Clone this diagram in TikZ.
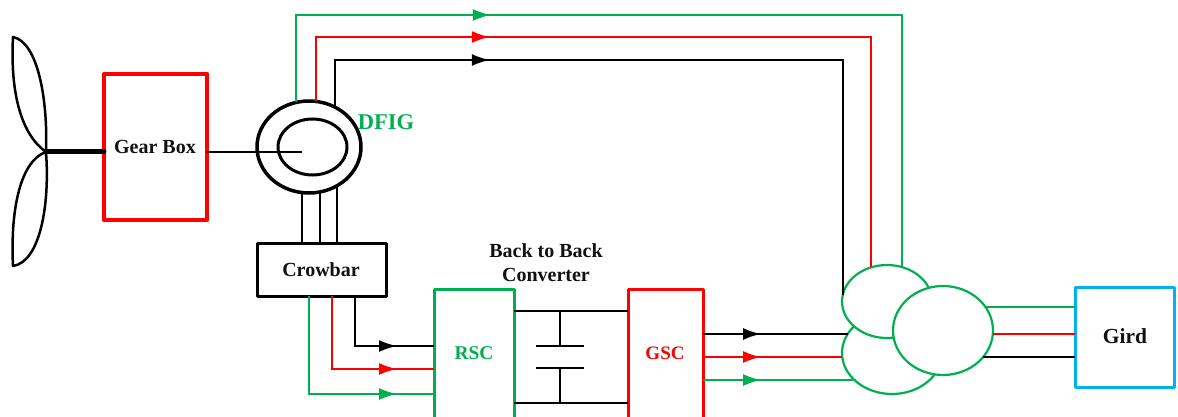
\documentclass[tikz,border=0pt]{standalone}
\usepackage{fontspec}
\setmainfont{Liberation Serif}
\usepackage{xcolor}
\usetikzlibrary{arrows.meta,decorations.markings,positioning,shapes.geometric}
\definecolor{gcol}{HTML}{00B050}
\definecolor{rcol}{HTML}{FF0000}
\definecolor{bcol}{HTML}{00B0F0}
\definecolor{kcol}{HTML}{111111}
\tikzset{
	block/.style={draw, rectangle, fill=none, inner sep=0pt, outer sep=0pt, line join=round},
	coil/.style={draw=gcol, fill=white, ellipse, line width=2.2pt, inner sep=0pt, outer sep=0pt},
	ring/.style={draw=black, ellipse, line width=3.5pt, inner sep=0pt, outer sep=0pt},
	lbl/.style={font=\bfseries\fontsize{20}{24}\selectfont, inner sep=0pt, text=kcol},
	gwire/.style={draw=gcol, line width=2pt},
	rwire/.style={draw=rcol, line width=2pt},
	kwire/.style={draw=black, line width=2pt},
	arrowat/.style={postaction={decorate, decoration={markings, mark=at position #1 with {\arrow{Latex[length=18pt,width=12pt]}}}}}
}
\begin{document}
\begin{tikzpicture}[x=1pt, y=-1pt]
\useasboundingbox (0,0) rectangle (1178,417);
\coordinate (hub) at (46,152);
\node[block, draw=rcol, line width=4.5pt, minimum width=103pt, minimum height=146pt] (gear) at (155.5,147) {};
\node[ring, minimum width=104pt, minimum height=92pt] (gen) at (309,147) {};
\node[ring, line width=3pt, minimum width=69pt, minimum height=56pt] (rotor) at (312.5,147) {};
\node[block, draw=black, line width=3pt, minimum width=129pt, minimum height=53pt] (crowbar) at (321.5,269.5) {};
\node[block, draw=gcol, line width=3pt, minimum width=80pt, minimum height=131pt] (rsc) at (474,354.5) {};
\node[block, draw=rcol, line width=3pt, minimum width=75pt, minimum height=131pt] (gsc) at (665.5,354.5) {};
\node[block, draw=bcol, line width=3pt, minimum width=99pt, minimum height=100pt] (grid) at (1124.5,337) {};
\node[coil, minimum width=100pt, minimum height=82pt] (botcoil) at (892,353) {};
\node[coil, minimum width=90pt, minimum height=73pt] (topcoil) at (887,301.5) {};
\node[coil, minimum width=100pt, minimum height=89pt] (rightcoil) at (943,330.5) {};

\node[lbl] (gearlbl) at (155,147) {Gear Box};
\node[lbl, text=gcol, font=\bfseries\fontsize{22.5}{26}\selectfont] (dfig) at (386,122) {DFIG};
\node[lbl] (crowlbl) at (321,270) {Crowbar};
\node[lbl] (back) at (546,251) {Back to Back};
\node[lbl] (conv) [below=10pt of back] {Converter};
\node[lbl, text=gcol, font=\bfseries\fontsize{19.5}{23}\selectfont] (rsclbl) at (474,353) {RSC};
\node[lbl, text=rcol, font=\bfseries\fontsize{19}{23}\selectfont] (gsclbl) at (665,353) {GSC};
\node[lbl, font=\bfseries\fontsize{21.5}{25}\selectfont] (gridlbl) at (1125,336) {Gird};

\draw[line width=2.5pt, line join=round] (hub) .. controls (22,135) and (10,95) .. (13,37)
	.. controls (38,42) and (48,100) .. (hub);
\draw[line width=2.5pt, line join=round] (hub) .. controls (22,160) and (10,205) .. (13,266)
	.. controls (40,262) and (50,205) .. (hub);
\draw[line width=5pt, line cap=round] (hub) -- (gear.west |- hub);
\coordinate (shaftend) at (302,152);
\draw[kwire] (gear.east |- shaftend) -- (shaftend);

\coordinate (gtop) at (600,15);
\coordinate (rtop) at (600,37);
\coordinate (ktop) at (600,60);
\path[gwire, arrowat=282pt] (gen.106) |- (gtop) -| (topcoil.66);
\path[rwire, arrowat=238pt] (gen.81) |- (rtop) -| (topcoil.115);
\path[kwire, arrowat=202pt] (gen.57) |- (ktop) -| (topcoil.172);

\draw[kwire] (gen.-99) -- (gen.-99 |- crowbar.north);
\draw[kwire] (gen.-76) -- (gen.-76 |- crowbar.north);
\draw[kwire] (gen.-54) -- (gen.-54 |- crowbar.north);

\path[gwire, arrowat=-37pt] ([xshift=-12.5pt]crowbar.south) |- ([yshift=-39.5pt]rsc.west);
\path[rwire, arrowat=-37pt] ([xshift=10.5pt]crowbar.south) |- ([yshift=-14.5pt]rsc.west);
\path[kwire, arrowat=-37pt] ([xshift=33.5pt]crowbar.south) |- ([yshift=8.5pt]rsc.west);

\draw[kwire] ([yshift=43.5pt]rsc.east) -- ([yshift=43.5pt]gsc.west);
\draw[kwire] ([yshift=-48.5pt]rsc.east) -- ([yshift=-48.5pt]gsc.west);
\coordinate (capa) at (560,346);
\coordinate (capb) at (560,368);
\draw[kwire] ([yshift=43.5pt]rsc.east -| capa) -- (capa);
\draw[kwire] (capb) -- ([yshift=-48.5pt]rsc.east -| capb);
\draw[kwire] ([xshift=-24pt]capa) -- ([xshift=24pt]capa);
\draw[kwire] ([xshift=-24pt]capb) -- ([xshift=24pt]capb);

\coordinate (gsck) at ([yshift=20.5pt]gsc.east);
\coordinate (gscr) at ([yshift=-2.5pt]gsc.east);
\coordinate (gscg) at ([yshift=-25.5pt]gsc.east);
\path[kwire, arrowat=58pt] (gsck) -- (gsck -| botcoil.157);
\path[rwire, arrowat=58pt] (gscr) -- (gscr -| botcoil.west);
\path[gwire, arrowat=58pt] (gscg) -- (gscg -| botcoil.214);

\coordinate (gridg) at ([yshift=30pt]grid.west);
\coordinate (gridr) at ([yshift=3pt]grid.west);
\coordinate (gridk) at ([yshift=-20pt]grid.west);
\draw[gwire] (gridg) -- (gridg -| rightcoil.29);
\draw[rwire] (gridr) -- (gridr -| rightcoil.-4);
\draw[kwire] (gridk) -- (gridk -| rightcoil.-33);
\end{tikzpicture}
\end{document}
